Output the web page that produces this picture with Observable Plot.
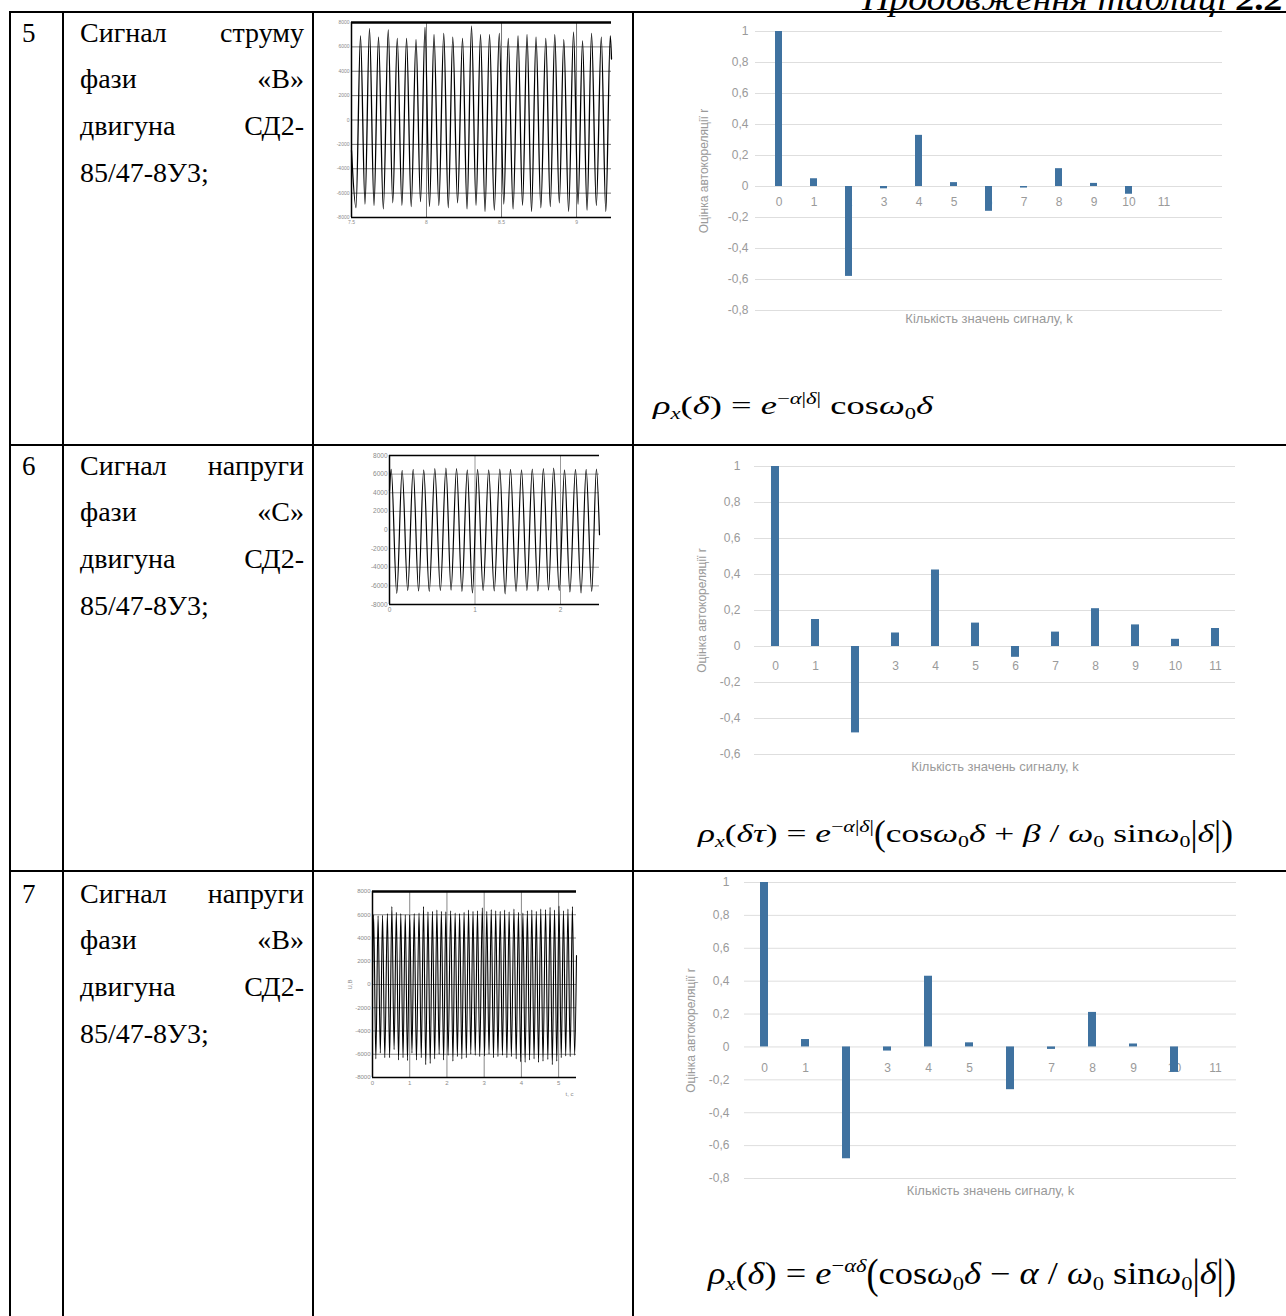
<!DOCTYPE html>
<html><head><meta charset="utf-8">
<script src="https://cdn.jsdelivr.net/npm/d3@7"></script>
<script src="https://cdn.jsdelivr.net/npm/@observablehq/plot@0.6"></script>
<style>
html,body{margin:0;padding:0;background:#fff;}
body{width:1286px;height:1316px;position:relative;overflow:hidden;font-family:"Liberation Serif","Times New Roman",serif;color:#000;}
.hl{position:absolute;height:2px;background:#000;z-index:5;}
.vl{position:absolute;width:2px;background:#000;z-index:5;}
.num{position:absolute;left:22px;font-size:27px;line-height:1;}
.tl{position:absolute;left:80px;width:224px;display:flex;justify-content:space-between;font-size:28px;line-height:1;white-space:nowrap;}
.chart{position:absolute;}
.chart svg{max-width:none;overflow:visible;}
.f{position:absolute;font-family:"Liberation Serif","Times New Roman",serif;white-space:nowrap;line-height:1;transform-origin:left top;}
.f sub{font-size:0.62em;vertical-align:-0.3em;}
.f sup{font-size:0.62em;vertical-align:0.62em;}
.big{display:inline-block;transform:scaleY(1.35);}
#hdr{position:absolute;left:862px;top:-18px;font-size:34px;font-style:italic;line-height:1;white-space:nowrap;transform-origin:left top;}
</style></head>
<body>
<div id="hdr">Продовження таблиці <b>2.2</b></div>

<div class="f" id="f1" style="left:653px;top:391px;font-size:26px;"><i>ρ</i><sub><i>x</i></sub>(<i>δ</i>) = <i>e</i><sup>−<i>α</i>|<i>δ</i>|</sup> cos<i>ω</i><sub>0</sub><i>δ</i></div>
<div class="f" id="f2" style="left:698px;top:819px;font-size:26px;"><i>ρ</i><sub><i>x</i></sub>(<i>δτ</i>) = <i>e</i><sup>−<i>α</i>|<i>δ</i>|</sup><span class="big">(</span>cos<i>ω</i><sub>0</sub><i>δ</i> + <i>β</i> / <i>ω</i><sub>0</sub> sin<i>ω</i><sub>0</sub><span class="big">|</span><i>δ</i><span class="big">|)</span></div>
<div class="f" id="f3" style="left:708px;top:1256px;font-size:31px;"><i>ρ</i><sub><i>x</i></sub>(<i>δ</i>) = <i>e</i><sup>−<i>αδ</i></sup><span class="big">(</span>cos<i>ω</i><sub>0</sub><i>δ</i> − <i>α</i> / <i>ω</i><sub>0</sub> sin<i>ω</i><sub>0</sub><span class="big">|</span><i>δ</i><span class="big">|)</span></div>

<script>
// ---------- DATA ----------
const lags = [0,1,2,3,4,5,6,7,8,9,10,11];
const xDomain5 = [0,1,2,3,4,5,6,7,8,9,10,11,12];
const r5 = [1.0, 0.05, -0.58, -0.015, 0.33, 0.025, -0.16, -0.01, 0.115, 0.02, -0.05, 0];
const r6 = [1.0, 0.15, -0.48, 0.075, 0.425, 0.13, -0.06, 0.08, 0.21, 0.12, 0.04, 0.10];
const r7 = [1.0, 0.045, -0.68, -0.025, 0.43, 0.025, -0.26, -0.015, 0.21, 0.018, -0.155, 0];
const yTicks5 = [1,0.8,0.6,0.4,0.2,0,-0.2,-0.4,-0.6,-0.8];
const yTicks6 = [1,0.8,0.6,0.4,0.2,0,-0.2,-0.4,-0.6];
const yTicks7 = [1,0.8,0.6,0.4,0.2,0,-0.2,-0.4,-0.6,-0.8];
const yTitle = "Оцінка автокореляції r";
const xTitle = "Кількість значень сигналу, k";

// signal 1 (current, phase B): extremes
const sig1PeakT = [7.56,7.62,7.68,7.745,7.805,7.867,7.93,7.99,8.05,8.115,8.175,8.24,8.30,8.36,8.42,8.485,8.545,8.61,8.67,8.73,8.795,8.855,8.915,8.98,9.04,9.10,9.165,9.225];
const sig1PeakV = [6900,7500,6800,7400,6700,6700,6600,7600,7000,7100,6800,6700,7700,7000,7000,7100,6700,6900,7000,6800,6700,7000,6600,7200,6500,7100,6800,6900];
const sig1TroughT = [7.53,7.59,7.65,7.712,7.775,7.836,7.898,7.96,8.02,8.082,8.145,8.207,8.27,8.33,8.39,8.452,8.515,8.577,8.64,8.70,8.762,8.825,8.885,8.947,9.01,9.07,9.132,9.195];
const sig1TroughV = [-7200,-6900,-7000,-7300,-6800,-7000,-7100,-6700,-7100,-7000,-7200,-6800,-7300,-7000,-7500,-7400,-6900,-7300,-7000,-7500,-7200,-7100,-6800,-7500,-6900,-7400,-7000,-7500];
const sig1Ends = [[7.5,-2500],[9.233,5000]];
const sig1X = [7.5,9.233], sig1XTicks = [7.5,8,8.5,9];

// signal 2 (voltage, phase C)
const sig2PeakT = [0.02,0.148,0.277,0.40,0.53,0.66,0.784,0.91,1.03,1.16,1.29,1.415,1.544,1.67,1.80,1.92,2.047,2.175,2.30,2.42];
const sig2PeakV = [6500,6400,6500,6450,6600,6650,6600,6450,6500,6450,6550,6500,6450,6550,6600,6650,6450,6500,6500,6550];
const sig2TroughT = [0.085,0.213,0.34,0.465,0.595,0.72,0.847,0.97,1.095,1.225,1.352,1.48,1.607,1.735,1.86,1.985,2.11,2.24,2.365];
const sig2TroughV = [-6800,-6500,-6550,-6600,-6500,-6450,-6600,-6750,-6500,-6550,-6850,-6600,-6500,-6550,-6450,-6500,-6650,-6750,-6600];
const sig2Ends = [[0,4200],[2.456,-500]];
const sig2X = [0,2.456], sig2XTicks = [0,1,2];

// signal 3 (voltage, phase B)
const sig3PeakT = [0.03,0.15,0.27,0.40,0.52,0.64,0.76,0.88,1.00,1.12,1.25,1.37,1.49,1.61,1.73,1.85,1.97,2.10,2.22,2.34,2.46,2.58,2.70,2.82,2.95,3.07,3.19,3.31,3.43,3.55,3.67,3.80,3.92,4.04,4.16,4.28,4.40,4.52,4.65,4.77,4.89,5.01,5.13,5.25,5.37];
const sig3PeakV = [6000,5900,5950,6100,6700,6200,6100,6000,6000,6100,6150,6700,6250,6300,6400,6300,6250,6350,6150,6100,6200,6400,6300,6350,6600,6300,6450,6350,6300,6400,6250,6500,6200,6150,6350,6400,6300,6500,6450,6650,6400,6750,6350,6500,6700];
const sig3TroughT = [0.09,0.21,0.33,0.46,0.58,0.70,0.82,0.94,1.06,1.18,1.31,1.43,1.55,1.67,1.79,1.91,2.03,2.16,2.28,2.40,2.52,2.64,2.76,2.88,3.01,3.13,3.25,3.37,3.49,3.61,3.73,3.86,3.98,4.10,4.22,4.34,4.46,4.58,4.71,4.83,4.95,5.07,5.19,5.31,5.43];
const sig3TroughV = [-6400,-5900,-6300,-6300,-5600,-6500,-6300,-6550,-5900,-6500,-6300,-6900,-6800,-6400,-6000,-6500,-6100,-6600,-6200,-6400,-6300,-6000,-6100,-6200,-6150,-6000,-6300,-6200,-6100,-6300,-6200,-6400,-6650,-6700,-6500,-6400,-6700,-6600,-6450,-6900,-6600,-6300,-6150,-6200,-6100];
const sig3Ends = [[0,0],[5.48,2500]];
const sig3X = [0,5.48], sig3XTicks = [0,1,2,3,4,5];

const sigYTicks = [-8000,-6000,-4000,-2000,0,2000,4000,6000,8000];

const rowNums = ["5","6","7"];
const rowTexts = [
  [["Сигнал","струму"],["фази","«В»"],["двигуна","СД2-"],["85/47-8У3;"]],
  [["Сигнал","напруги"],["фази","«С»"],["двигуна","СД2-"],["85/47-8У3;"]],
  [["Сигнал","напруги"],["фази","«В»"],["двигуна","СД2-"],["85/47-8У3;"]]
];

// ---------- LAYOUT ----------
const body = document.body;
function add(cls, css, html){const d=document.createElement("div");d.className=cls;Object.assign(d.style,css);if(html!=null)d.innerHTML=html;body.appendChild(d);return d;}
function fit(el, w){const nat=el.getBoundingClientRect().width; el.style.transform=`scaleX(${w/nat})`;}
fit(document.getElementById("hdr"), 422);
fit(document.getElementById("f1"), 280);
fit(document.getElementById("f2"), 535);
fit(document.getElementById("f3"), 528);

const rowTop = [12, 445, 871];
rowTop.forEach(y => add("hl", {left:"10px", top:(y-1)+"px", width:"1290px"}));
[10,63,313,633].forEach(x => add("vl", {left:(x-1)+"px", top:"11px", height:"1310px"}));

rowTexts.forEach((lines, r) => {
  const off = rowTop[r] - 12 + (r===2 ? 2 : 0);
  add("num", {top:(20+off)+"px"}, rowNums[r]);
  lines.forEach((words, i) => {
    const d = add("tl", {top:(18.5 + i*46.7 + off)+"px"});
    words.forEach(w => { const s=document.createElement("span"); s.textContent=w; d.appendChild(s); });
  });
});

// ---------- CHARTS ----------
const fmt = d => d === 0 ? "0" : String(d).replace(".", ",");
function barChart(o){
  const data = lags.map((k,i)=>({k, v:o.values[i]}));
  return Plot.plot({
    width:o.width, height:o.height,
    marginTop:o.mt, marginBottom:o.mb, marginLeft:o.ml, marginRight:o.mr,
    style:{fontFamily:"Liberation Sans, Arial, sans-serif", fontSize:"12px", color:"#9a9a9a", background:"transparent"},
    x:{type:"band", domain:o.domain, paddingInner:0.8, paddingOuter:0.4, axis:null},
    y:{domain:[o.ticks[o.ticks.length-1], 1], ticks:o.ticks, tickFormat:fmt, tickSize:0, tickPadding:o.tp,
       label:yTitle, labelAnchor:"center", labelArrow:"none", labelOffset:o.lo},
    marks:[
      Plot.ruleY(o.ticks, {stroke:"#dedede", strokeWidth:1}),
      Plot.text(data, {x:"k", y:0, text:d=>String(d.k), dy:o.ldy, fill:"#9a9a9a", fontSize:12}),
      Plot.barY(data, {x:"k", y:"v", fill:"#3f72a0"}),
      Plot.text([xTitle], {text:d=>d, frameAnchor:"bottom", dy:o.tdy, fill:"#9a9a9a", fontSize:13})
    ]
  });
}
function sigPlot(o){
  const pts = [...o.ends];
  o.pt.forEach((t,i)=>pts.push([t,o.pv[i]]));
  o.tt.forEach((t,i)=>pts.push([t,o.tv[i]]));
  pts.sort((a,b)=>a[0]-b[0]);
  return Plot.plot({
    width:o.width, height:o.height,
    marginTop:o.mt, marginBottom:o.mb, marginLeft:o.ml, marginRight:0,
    style:{fontFamily:"Liberation Sans, Arial, sans-serif", fontSize:o.fs+"px", color:"#8a8a8a", background:"transparent"},
    x:{domain:o.x, ticks:o.xticks, tickFormat:d=>String(d), tickSize:0, tickPadding:3,
       label:o.xl||null, labelAnchor:"right", labelArrow:"none", labelOffset:o.xlo||0},
    y:{domain:[-8000,8000], ticks:sigYTicks, tickFormat:d=>String(d), tickSize:0, tickPadding:2,
       label:o.yl||null, labelAnchor:"center", labelArrow:"none", labelOffset:o.ylo||0},
    marks:[
      Plot.gridX(o.xticks, {stroke:o.grid, strokeOpacity:1, strokeWidth:1}),
      Plot.gridY(sigYTicks, {stroke:o.grid, strokeOpacity:1, strokeWidth:1}),
      Plot.line(pts, {x:d=>d[0], y:d=>d[1], curve:"monotone-x", stroke:"#000", strokeWidth:o.sw}),
      Plot.ruleY([8000], {stroke:"#000", strokeWidth:o.topw}),
      Plot.ruleY([-8000], {stroke:"#000", strokeWidth:1.5}),
      Plot.ruleX([o.x[0]], {stroke:"#000", strokeWidth:1.5})
    ]
  });
}
function place(svg, left, top){const d=add("chart",{left:left+"px", top:top+"px"}); d.appendChild(svg);}

place(sigPlot({pt:sig1PeakT,pv:sig1PeakV,tt:sig1TroughT,tv:sig1TroughV,ends:sig1Ends,x:sig1X,xticks:sig1XTicks,
  width:296,height:217,mt:10,mb:12,ml:36,fs:5,grid:"#777",sw:1.3,topw:2.5}), 315, 12);
place(sigPlot({pt:sig2PeakT,pv:sig2PeakV,tt:sig2TroughT,tv:sig2TroughV,ends:sig2Ends,x:sig2X,xticks:sig2XTicks,
  width:259,height:171,mt:8,mb:14,ml:49,fs:6.5,grid:"#999",sw:1.2,topw:1.5}), 340, 447);
place(sigPlot({pt:sig3PeakT,pv:sig3PeakV,tt:sig3TroughT,tv:sig3TroughV,ends:sig3Ends,x:sig3X,xticks:sig3XTicks,
  width:256,height:224,mt:8,mb:30,ml:52,fs:6,grid:"#888",sw:1.1,topw:2.5,xl:"t, c",xlo:18,yl:"U,B",ylo:25}), 320, 883);

place(barChart({values:r5, domain:xDomain5, ticks:yTicks5, width:550, height:335, mt:16, mb:40, ml:65, mr:18, tp:7, lo:56, ldy:16, tdy:12}), 690, 15);
place(barChart({values:r6, domain:lags, ticks:yTicks6, width:560, height:337, mt:19, mb:30, ml:64, mr:15, tp:14, lo:57, ldy:20, tdy:16}), 690, 447);
place(barChart({values:r7, domain:lags, ticks:yTicks7, width:570, height:331, mt:5, mb:30, ml:64, mr:14, tp:15, lo:58, ldy:21, tdy:16}), 680, 877);
</script>
</body></html>
